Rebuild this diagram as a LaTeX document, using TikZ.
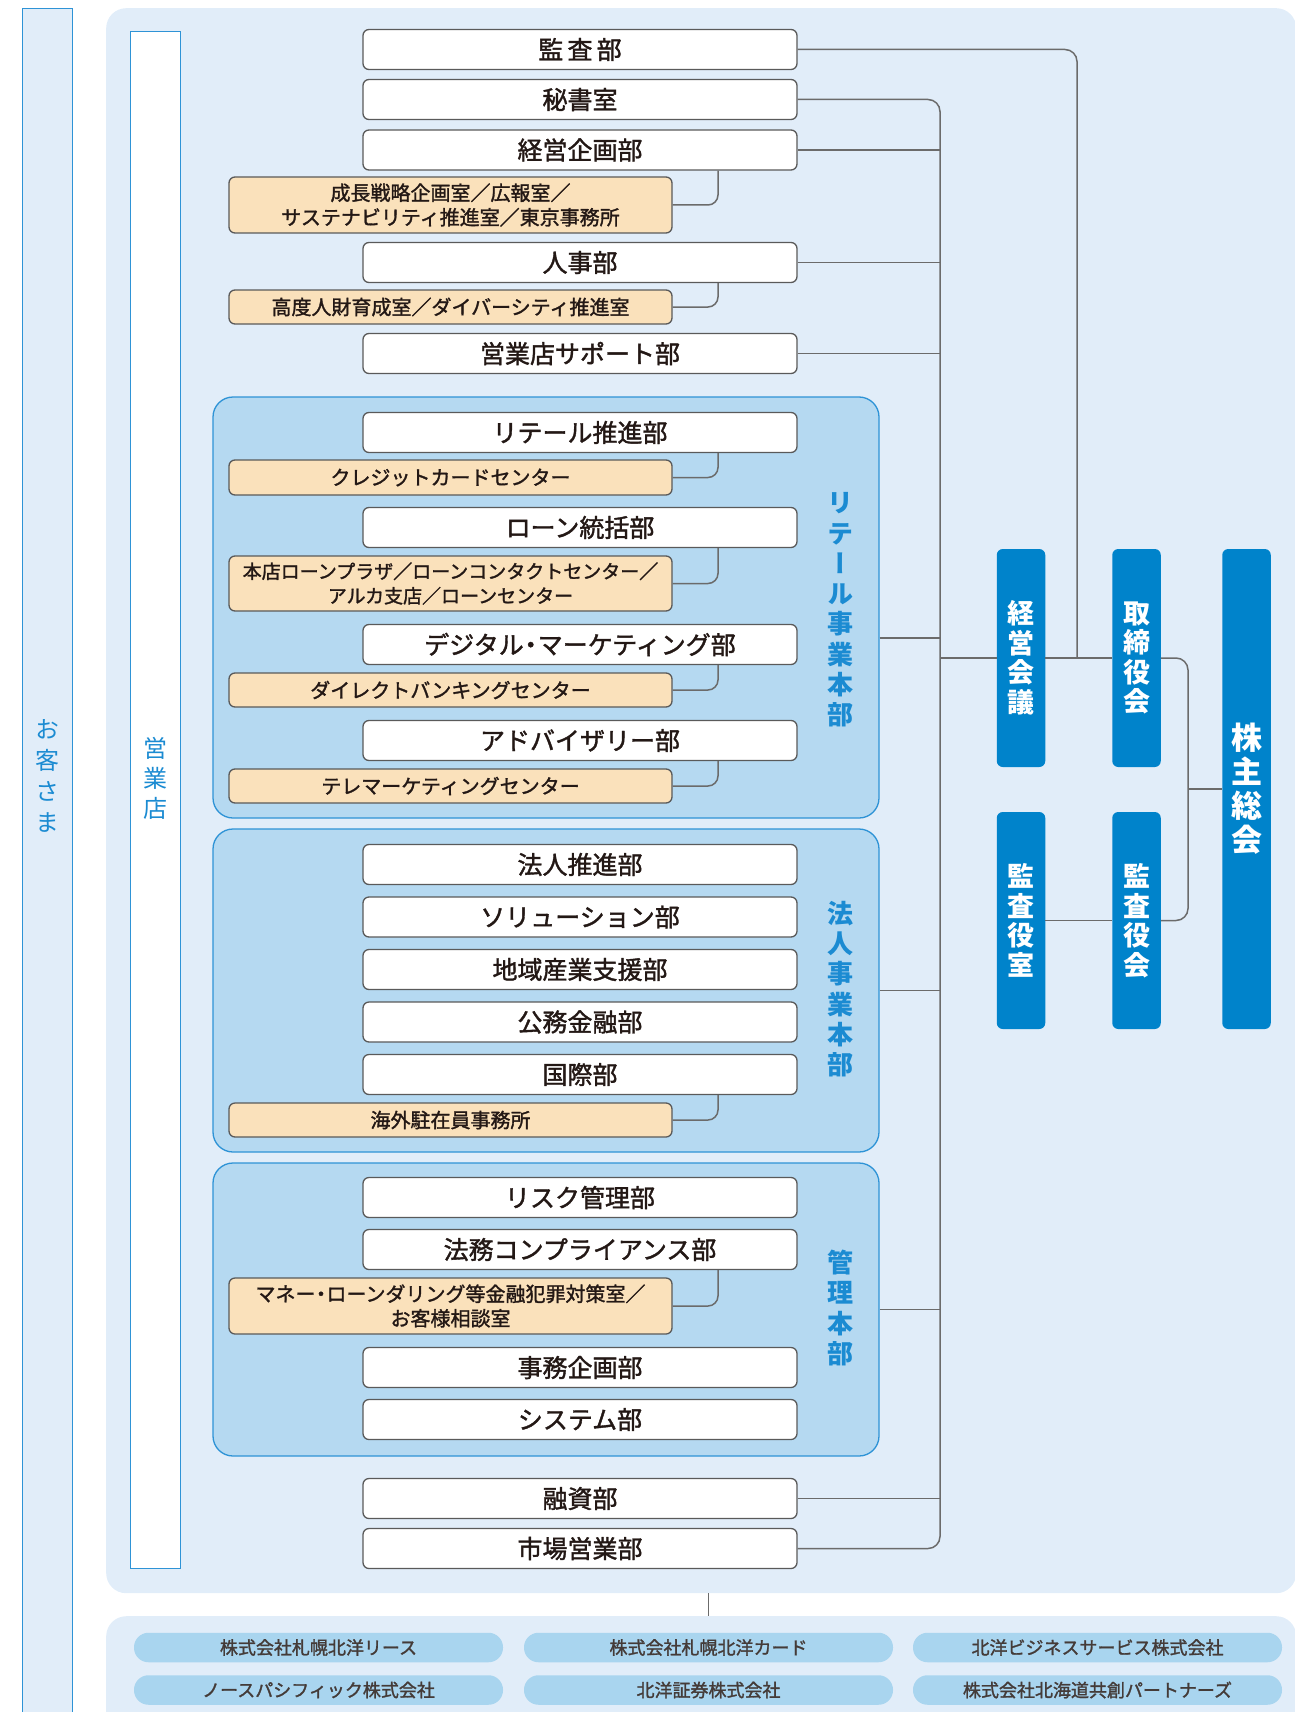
\documentclass[tikz,border=0pt]{standalone}
\usepackage{fontspec}
\setmainfont{Noto Sans CJK JP}
\newfontfamily\jpm{Noto Sans CJK JP}[FakeBold=1.5]
\newfontfamily\jpv{Noto Sans CJK JP}[RawFeature=+vert]
\definecolor{panelbg}{HTML}{E1EDF9}
\definecolor{grpfill}{HTML}{B5D9F1}
\definecolor{edgeblue}{HTML}{2E93D6}
\definecolor{labelblue}{HTML}{1B8BD2}
\definecolor{boxblue}{HTML}{0083CB}
\definecolor{orangefill}{HTML}{FAE1BB}
\definecolor{pillfill}{HTML}{A9D5EF}
\definecolor{boxedge}{HTML}{5A5A5A}
\definecolor{connline}{HTML}{6B6B6B}
\definecolor{txtdark}{HTML}{231815}
\tikzset{
  panel/.style={fill=panelbg, rounded corners=20pt, inner sep=0, anchor=north west},
  column/.style={draw=edgeblue, line width=1pt, inner sep=0, anchor=north west},
  grp/.style={draw=edgeblue, line width=1.3pt, fill=grpfill, rounded corners=20pt, inner sep=0, minimum width=666pt},
  dept/.style={draw=boxedge, line width=1.3pt, fill=white, rounded corners=6pt, minimum width=434pt, minimum height=40pt, inner sep=0, text=txtdark, font=\jpm\fontsize{25}{28}\selectfont},
  sub/.style={draw=boxedge, line width=1.3pt, fill=orangefill, rounded corners=6pt, minimum width=443pt, minimum height=34pt, inner sep=0, align=center, text=txtdark, font=\jpm\fontsize{20}{24.5}\selectfont},
  pill/.style={fill=pillfill, rounded corners=14.5pt, minimum width=369pt, minimum height=29.5pt, inner sep=0, text=txtdark!85, font=\jpm\fontsize{18}{20}\selectfont},
  bluebox/.style={fill=boxblue, rounded corners=6pt, inner sep=0, minimum width=48.5pt, text=white, align=center, font=\jpv\bfseries\fontsize{27}{29.5}\selectfont},
  vlabel/.style={inner sep=0, align=center, text=labelblue, font=\jpv\bfseries\fontsize{26}{30.3}\selectfont},
  conn/.style={draw=connline, line width=1.5pt},
}
\begin{document}
\begin{tikzpicture}[x=1pt,y=-1pt]
\useasboundingbox (0,0) rectangle (1294,1712);
% customer column and panels
\node[column, fill=panelbg, minimum width=50pt, minimum height=1730pt] (okyakucol) at (22,8) {};
\node[panel, minimum width=1190pt, minimum height=1585pt] (mainp) at (106,8) {};
\node[panel, minimum width=1190pt, minimum height=130pt] (subp) at (106,1616) {};
\node[column, fill=white, minimum width=50pt, minimum height=1537pt] (eigyocol) at (130,31) {};
\node[vlabel, font=\jpv\fontsize{24}{31}\selectfont] (okyaku) at (47,776) {お\\客\\さ\\ま};
\node[vlabel, font=\jpv\fontsize{24}{30}\selectfont] (eigyoten) at (155,778) {営\\業\\店};

% groups
\node[grp, minimum height=421pt] (retail) at (546,607.5) {};
\node[grp, minimum height=323pt] (corp) at (546,990.5) {};
\node[grp, minimum height=293pt] (kanri) at (546,1309.5) {};
\node[vlabel] (retaillbl) at (840,610) {リ\\テ\\ー\\ル\\事\\業\\本\\部};
\node[vlabel] (corplbl) at (840,989) {法\\人\\事\\業\\本\\部};
\node[vlabel] (kanrilbl) at (840,1308) {管\\理\\本\\部};

% helper coordinates
\coordinate (tx) at (940,0);
\coordinate (kx) at (1077,0);
\coordinate (rx) at (1188,0);
\coordinate (subx) at (718,0);
\coordinate (sx) at (708,0);

% department boxes
\node[dept] (kansa) at (580,49.5) {監\,査\,部};
\node[dept] (hisho) at (580,99.5) {秘書室};
\node[dept] (keiei) at (580,150) {経営企画部};
\node[dept] (jinji) at (580,262.5) {人事部};
\node[dept] (eigyosupport) at (580,353.5) {営業店サポート部};
\node[dept] (retailsuishin) at (580,432.5) {リテール推進部};
\node[dept] (loan) at (580,527.5) {ローン統括部};
\node[dept] (digital) at (580,644.5) {デジタル\kern-5.5pt・\kern-5.5pt マーケティング部};
\node[dept] (advisory) at (580,740.5) {アドバイザリー部};
\node[dept] (houjin) at (580,864.5) {法人推進部};
\node[dept] (solution) at (580,917) {ソリューション部};
\node[dept] (chiiki) at (580,969.5) {地域産業支援部};
\node[dept] (koumu) at (580,1022) {公務金融部};
\node[dept] (kokusai) at (580,1074.5) {国際部};
\node[dept] (risk) at (580,1197.5) {リスク管理部};
\node[dept] (houmu) at (580,1249.5) {法務コンプライアンス部};
\node[dept] (jimu) at (580,1367.5) {事務企画部};
\node[dept] (system) at (580,1419.5) {システム部};
\node[dept] (yushi) at (580,1498.5) {融資部};
\node[dept] (ichiba) at (580,1548.5) {市場営業部};

% sub offices
\node[sub, minimum height=56pt] (seicho) at (450.5,205) {成長戦略企画室／広報室／\\サステナビリティ推進室／東京事務所};
\node[sub] (kodo) at (450.5,307) {高度人財育成室／ダイバーシティ推進室};
\node[sub, minimum height=35pt] (credit) at (450.5,477.5) {クレジットカードセンター};
\node[sub, minimum height=55pt, font=\jpm\fontsize{19}{24.5}\selectfont] (honten) at (450.5,583.5) {本店ローンプラザ／ローンコンタクトセンター／\\アルカ支店／ローンセンター};
\node[sub] (direct) at (450.5,690) {ダイレクトバンキングセンター};
\node[sub] (tele) at (450.5,786) {テレマーケティングセンター};
\node[sub] (kaigai) at (450.5,1120) {海外駐在員事務所};
\node[sub, minimum height=56pt] (money) at (450.5,1306) {マネー\kern-4.5pt・\kern-4.5pt ローンダリング等金融犯罪対策室／\\お客様相談室};

% governance boxes
\node[bluebox, minimum height=218pt] (keieikaigi) at (1021,658) {経\\営\\会\\議};
\node[bluebox, minimum height=218pt] (torishimari) at (1136.5,658) {取\\締\\役\\会};
\node[bluebox, minimum height=217pt] (kansashitsu) at (1021,920.5) {監\\査\\役\\室};
\node[bluebox, minimum height=217pt] (kansayakukai) at (1136.5,920.5) {監\\査\\役\\会};
\node[bluebox, minimum height=480pt, font=\jpv\bfseries\fontsize{31}{34}\selectfont] (kabunushi) at (1246.5,789) {株\\主\\総\\会};

% subsidiaries
\node[pill] (lease) at (318.5,1647.5) {株式会社札幌北洋リース};
\node[pill] (card) at (708.5,1647.5) {株式会社札幌北洋カード};
\node[pill] (business) at (1097.5,1647.5) {北洋ビジネスサービス株式会社};
\node[pill] (northpac) at (318.5,1690) {ノースパシフィック株式会社};
\node[pill] (shoken) at (708.5,1690) {北洋証券株式会社};
\node[pill] (kyoso) at (1097.5,1690) {株式会社北海道共創パートナーズ};

% connectors: trunk
\draw[conn, rounded corners=12pt] (hisho.east) -| (tx |- ichiba.east) -- (ichiba.east);
\foreach \n in {keiei, jinji, eigyosupport, yushi} {
  \draw[conn] (\n.east) -- (tx |- \n.east);
}
\path ([yshift=-30.5pt]retail.east) coordinate (retailout);
\draw[conn] (retailout) -- (tx |- retailout);
\draw[conn] (corp.east) -- (tx |- corp.east);
\draw[conn] (kanri.east) -- (tx |- kanri.east);

% sub office connectors
\foreach \p/\c in {keiei/seicho, jinji/kodo, retailsuishin/credit, loan/honten, digital/direct, advisory/tele, kokusai/kaigai, houmu/money} {
  \draw[conn, rounded corners=10pt] (\p.south -| subx) |- (\c.east);
}

% governance connectors
\draw[conn] (tx |- keieikaigi.west) -- (keieikaigi.west);
\draw[conn] (keieikaigi.east) -- (torishimari.west);
\draw[conn, rounded corners=12pt] (kansa.east) -| (kx |- keieikaigi.east);
\draw[conn] (kansashitsu.east) -- (kansayakukai.west);
\draw[conn, rounded corners=12pt] (torishimari.east) -| (rx |- kansayakukai.east) -- (kansayakukai.east);
\draw[conn] (rx |- kabunushi.west) -- (kabunushi.west);

% link to subsidiaries
\draw[conn, line width=1pt] (mainp.south -| sx) -- (subp.north -| sx);
\end{tikzpicture}
\end{document}
